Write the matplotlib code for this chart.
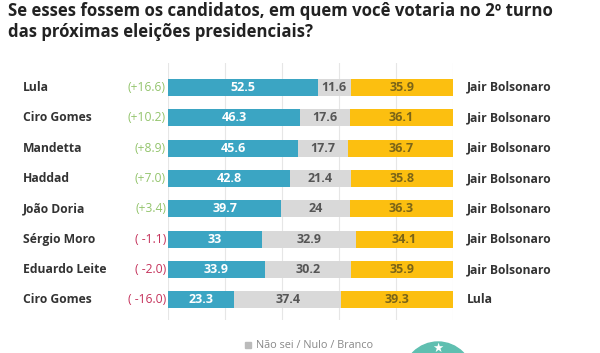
import matplotlib.pyplot as plt
from matplotlib.patches import Circle, Rectangle
from matplotlib.transforms import IdentityTransform, blended_transform_factory

# data
left_names = ['Lula', 'Ciro Gomes', 'Mandetta', 'Haddad', 'João Doria',
              'Sérgio Moro', 'Eduardo Leite', 'Ciro Gomes']
deltas = ['(+16.6)', '(+10.2)', '(+8.9)', '(+7.0)', '(+3.4)',
          '( -1.1)', '( -2.0)', '( -16.0)']
left_vals = [52.5, 46.3, 45.6, 42.8, 39.7, 33, 33.9, 23.3]
undecided = [11.6, 17.6, 17.7, 21.4, 24, 32.9, 30.2, 37.4]
right_vals = [35.9, 36.1, 36.7, 35.8, 36.3, 34.1, 35.9, 39.3]
right_names = ['Jair Bolsonaro'] * 7 + ['Lula']

BLUE = '#3ba5c3'
GRAY = '#d9d9d9'
YELLOW = '#fcbf10'
GREEN = '#93c46c'
RED = '#c5335c'
DARK = '#333333'

plt.rcParams['font.family'] = ['Open Sans', 'DejaVu Sans']

fig = plt.figure(figsize=(6, 3.53), dpi=100)
ax = fig.add_axes([168 / 600, 1 - 320 / 353, (453 - 168) / 600, (320 - 63) / 353])

ys = range(len(left_names))
h = 0.56
ax.barh(ys, left_vals, height=h, color=BLUE, zorder=2)
ax.barh(ys, undecided, left=left_vals, height=h, color=GRAY, zorder=2)
starts = [a + b for a, b in zip(left_vals, undecided)]
ax.barh(ys, right_vals, left=starts, height=h, color=YELLOW, zorder=2)

for y, a, b, c, s in zip(ys, left_vals, undecided, right_vals, starts):
    ax.text(a / 2, y, f'{a:g}', ha='center', va='center', color='white',
            fontsize=9, fontweight='bold', zorder=3)
    ax.text(a + b / 2, y, f'{b:g}', ha='center', va='center', color='#555555',
            fontsize=9, fontweight='bold', zorder=3)
    ax.text(s + c / 2, y, f'{c:g}', ha='center', va='center', color='#7a6418',
            fontsize=9, fontweight='bold', zorder=3)

ax.set_xlim(0, 100)
ax.set_ylim(7.66, -0.8)
ax.set_xticks([0, 20, 40, 60, 80, 100])
ax.grid(axis='x', color='#e6e6e6', lw=0.8, zorder=0)
ax.set_yticks([])
ax.tick_params(length=0, labelbottom=False)
for sp in ax.spines.values():
    sp.set_visible(False)

fig_t = blended_transform_factory(fig.transFigure, ax.transData)
for y, n, d, r in zip(ys, left_names, deltas, right_names):
    ax.text(23 / 600, y, n, transform=fig_t, ha='left', va='center',
            fontsize=8.7, fontweight='bold', color=DARK)
    ax.text(166 / 600, y, d, transform=fig_t, ha='right', va='center',
            fontsize=8.7, color=GREEN if '+' in d else RED)
    ax.text(467 / 600, y, r, transform=fig_t, ha='left', va='center',
            fontsize=8.7, fontweight='bold', color=DARK)

fig.text(8 / 600, 1 - 11 / 353, 'Se esses fossem os candidatos, em quem você votaria no 2º turno',
         ha='left', va='center', fontsize=12.1, fontweight='bold', color='#222222')
fig.text(8 / 600, 1 - 32 / 353, 'das próximas eleições presidenciais?',
         ha='left', va='center', fontsize=12.1, fontweight='bold', color='#222222')

# legend
fig.patches.append(Rectangle((245 / 600, 1 - 348 / 353), 6 / 600, 6 / 353,
                             transform=fig.transFigure, color='#bbbbbb'))
fig.text(256 / 600, 1 - 345 / 353, 'Não sei / Nulo / Branco', ha='left', va='center',
         fontsize=7.8, color='#888888')

# logo (cut off at bottom)
fig.patches.append(Circle((438, -24), 35, transform=IdentityTransform(),
                          color='#5fbfb0', clip_on=False))
fig.text(438 / 600, 5 / 353, '★', ha='center', va='center', fontsize=9,
         color='white', family='DejaVu Sans')

fig.savefig('out.png', dpi=100)
